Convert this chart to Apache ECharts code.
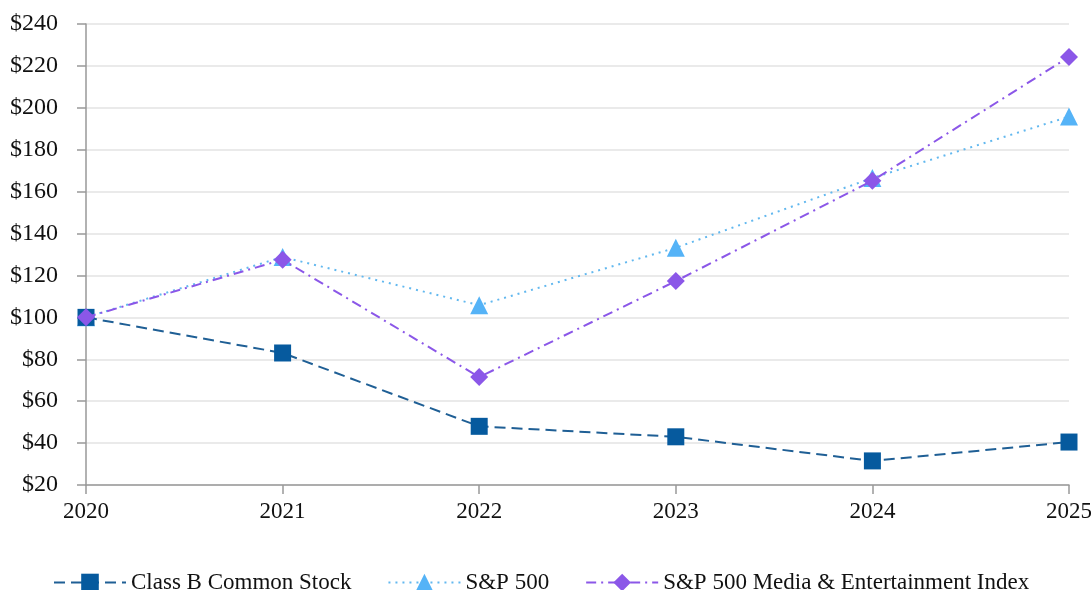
<!DOCTYPE html>
<html><head><meta charset="utf-8">
<script src="https://cdn.jsdelivr.net/npm/echarts@6/dist/echarts.min.js"></script>
<style>html,body{margin:0;padding:0;background:#fff}#c{width:1091px;height:590px}</style>
</head><body><div id="c"></div>
<script>
const years = ['2020','2021','2022','2023','2024','2025'];
const classB = [100, 83, 48, 43, 31.5, 40.5];
const sp500 = [100, 128.8, 105.8, 133.2, 166.5, 195.8];
const media = [100, 127.5, 71.5, 117.3, 165.2, 224.3];
const seriesNames = ['Class B Common Stock', 'S&P 500', 'S&P 500 Media & Entertainment Index'];
const font = 'Liberation Serif';
const chart = echarts.init(document.getElementById('c'));
chart.setOption({
  animation: false,
  textStyle: {fontFamily: font},
  grid: {left: 86, right: 22, top: 24, bottom: 105, containLabel: false, outerBoundsMode: 'none'},
  legend: {
    top: 566, left: 48, itemGap: 36, itemWidth: 72, itemHeight: 22,
    textStyle: {fontFamily: font, fontSize: 23, color: '#111'},
    data: seriesNames
  },
  xAxis: {
    type: 'category', data: years, boundaryGap: false,
    axisLine: {lineStyle: {color: '#999', width: 1.5}},
    axisTick: {show: true, length: 9, lineStyle: {color: '#999', width: 1.5}},
    axisLabel: {fontFamily: font, fontSize: 23, color: '#111', margin: 15}
  },
  yAxis: {
    type: 'value', min: 20, max: 240, interval: 20,
    axisLine: {show: true, lineStyle: {color: '#999', width: 1.5}},
    axisTick: {show: true, length: 9, lineStyle: {color: '#999', width: 1.5}},
    splitLine: {lineStyle: {color: '#e3e3e3', width: 1.5}},
    axisLabel: {fontFamily: font, fontSize: 24, color: '#111', margin: 28, formatter: v => '$' + v}
  },
  series: [
    {name: seriesNames[0], type: 'line', data: classB, symbol: 'rect', symbolSize: 17,
     itemStyle: {color: '#065a9e'}, lineStyle: {color: '#1f5f95', width: 2, type: [11, 6]}, z: 3},
    {name: seriesNames[1], type: 'line', data: sp500, symbol: 'triangle', symbolSize: 18,
     itemStyle: {color: '#55b3f7'}, lineStyle: {color: '#62b8ef', width: 2, type: [2, 5]}, z: 2},
    {name: seriesNames[2], type: 'line', data: media, symbol: 'diamond', symbolSize: [18, 18],
     itemStyle: {color: '#8b57e8'}, lineStyle: {color: '#8b57e8', width: 2, type: [10, 5, 2, 5]}, z: 4}
  ]
});
</script></body></html>
